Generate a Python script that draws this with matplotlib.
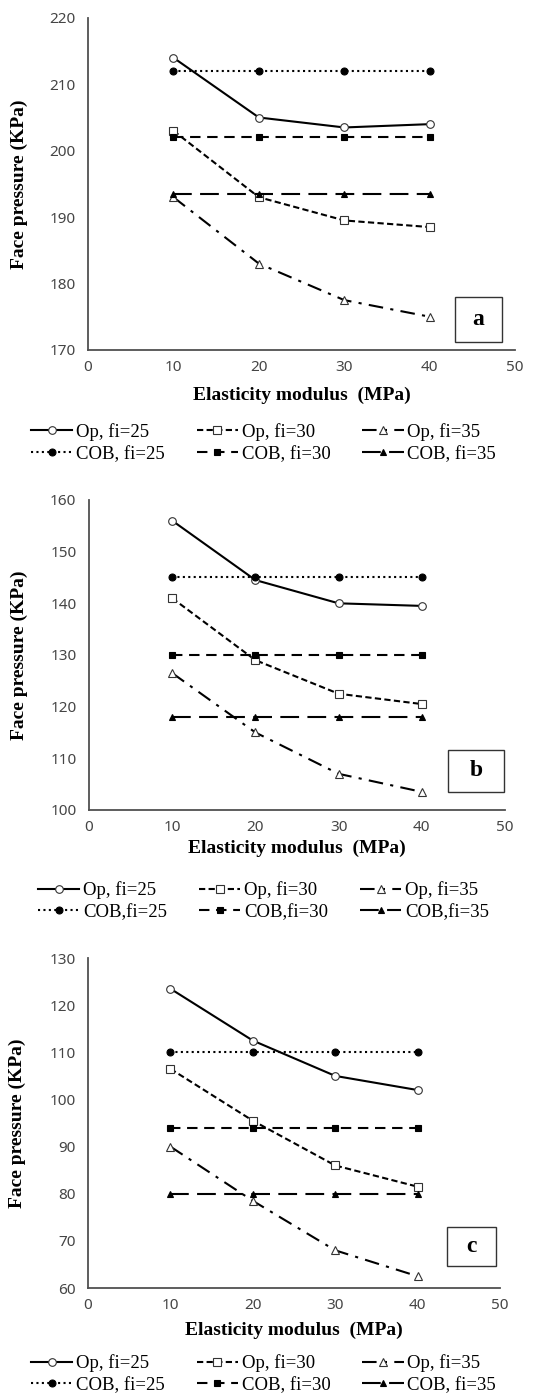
import matplotlib
matplotlib.use("Agg")
import matplotlib.pyplot as plt
from matplotlib.patches import Rectangle

# Elasticity modulus (MPa)
E = [10, 20, 30, 40]

# Panel a
a_op25 = [214, 205, 203.5, 204]
a_op30 = [203, 193, 189.5, 188.5]
a_op35 = [193, 183, 177.5, 175]
a_cob25 = [212, 212, 212, 212]
a_cob30 = [202, 202, 202, 202]
a_cob35 = [193.5, 193.5, 193.5, 193.5]

# Panel b
b_op25 = [156, 144.5, 140, 139.5]
b_op30 = [141, 129, 122.5, 120.5]
b_op35 = [126.5, 115, 107, 103.5]
b_cob25 = [145, 145, 145, 145]
b_cob30 = [130, 130, 130, 130]
b_cob35 = [118, 118, 118, 118]

# Panel c
c_op25 = [123.5, 112.5, 105, 102]
c_op30 = [106.5, 95.5, 86, 81.5]
c_op35 = [90, 78.5, 68, 62.5]
c_cob25 = [110, 110, 110, 110]
c_cob30 = [94, 94, 94, 94]
c_cob35 = [80, 80, 80, 80]

labels_a = ["Op, fi=25", "Op, fi=30", "Op, fi=35", "COB, fi=25", "COB, fi=30", "COB, fi=35"]
labels_b = ["Op, fi=25", "Op, fi=30", "Op, fi=35", "COB,fi=25", "COB,fi=30", "COB,fi=35"]

SERIF = "Liberation Serif"
TICKFONT = "Noto Sans"
GRAY = "#505050"

# line style, marker, filled
styles = [
    ("-", "o", False),
    ((0, (3, 1.6)), "s", False),
    ((0, (7, 3.5, 1.5, 3.5)), "^", False),
    ((0, (1, 1.6)), "o", True),
    ((0, (5, 3.2)), "s", True),
    ((0, (9, 4)), "^", True),
]


def draw_panel(rect, series, labels, yr, letter, box, xlab_y, ylab_x, leg_y):
    ax = fig.add_axes(rect)
    handles = []
    for ys, lab, (ls, mk, filled) in zip(series, labels, styles):
        ln, = ax.plot(E, ys, color="black", lw=1.5, linestyle=ls, marker=mk,
                      markersize=5 if filled else 5.5,
                      markerfacecolor="black" if filled else "white",
                      markeredgecolor="black" if filled else "#333333",
                      markeredgewidth=0.8, label=lab, clip_on=False)
        handles.append(ln)
    ax.set_xlim(0, 50)
    ax.set_ylim(yr[0], yr[1])
    ax.set_xticks(range(0, 51, 10))
    ax.set_yticks(range(yr[0], yr[1] + 1, 10))
    for s in ["top", "right"]:
        ax.spines[s].set_visible(False)
    for s in ["left", "bottom"]:
        ax.spines[s].set_color(GRAY)
        ax.spines[s].set_linewidth(1.3)
    ax.tick_params(axis="x", length=0, labelsize=11, labelcolor="#454545", pad=7)
    ax.tick_params(axis="y", length=0, labelsize=11, labelcolor="#454545", pad=9)
    for t in ax.get_xticklabels() + ax.get_yticklabels():
        t.set_fontfamily(TICKFONT)
    ax.set_xlabel("Elasticity modulus  (MPa)", fontfamily=SERIF, fontweight="bold", fontsize=14)
    ax.set_ylabel("Face pressure (KPa)", fontfamily=SERIF, fontweight="bold", fontsize=14)
    ax.xaxis.set_label_coords(0.5, xlab_y)
    ax.yaxis.set_label_coords(ylab_x, 0.5)

    x0, y0, x1, y1 = box
    ax.add_patch(Rectangle((x0, y0), x1 - x0, y1 - y0, transform=ax.transAxes,
                           fill=False, edgecolor="#333333", lw=1.0, clip_on=False))
    ax.text((x0 + x1) / 2, (y0 + y1) / 2, letter, transform=ax.transAxes,
            ha="center", va="center", fontfamily=SERIF, fontweight="bold", fontsize=17)

    order = [0, 3, 1, 4, 2, 5]
    fig.legend([handles[i] for i in order], [labels[i] for i in order],
               loc="center", bbox_to_anchor=(0.49, leg_y), ncol=3, frameon=False,
               prop={"family": SERIF, "size": 13.5}, handlelength=2.2,
               handletextpad=0.2, columnspacing=1.7, labelspacing=0.25,
               borderpad=0.1)
    return ax


fig = plt.figure(figsize=(5.38, 13.97), dpi=100)

draw_panel([0.1636, 0.7495, 0.794, 0.2377],
           [a_op25, a_op30, a_op35, a_cob25, a_cob30, a_cob35], labels_a,
           (170, 220), "a", (0.859, 0.024, 0.970, 0.16), -0.111, -0.14, 0.683)

draw_panel([0.1654, 0.4202, 0.7733, 0.2219],
           [b_op25, b_op30, b_op35, b_cob25, b_cob30, b_cob35], labels_b,
           (100, 160), "b", (0.863, 0.058, 0.998, 0.194), -0.097, -0.146, 0.355)

draw_panel([0.1636, 0.0780, 0.7658, 0.2362],
           [c_op25, c_op30, c_op35, c_cob25, c_cob30, c_cob35], labels_a,
           (60, 130), "c", (0.871, 0.067, 0.99, 0.185), -0.103, -0.15, 0.0164)

fig.savefig("out.png", dpi=100)
